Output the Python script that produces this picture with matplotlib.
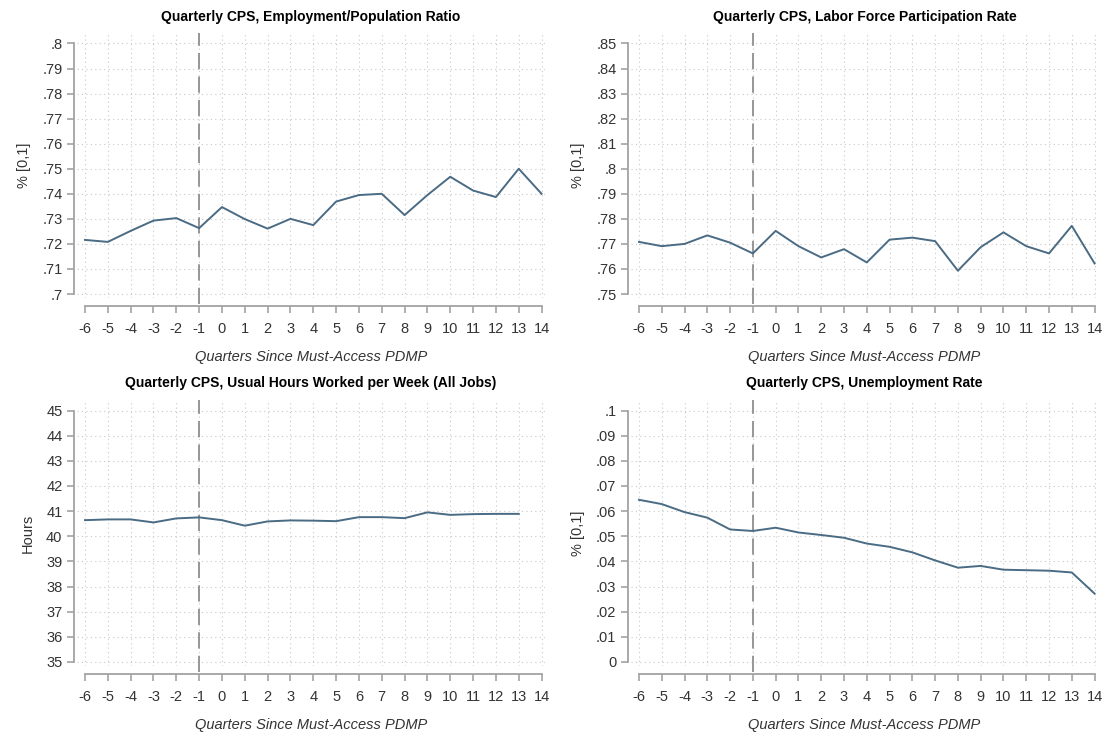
import numpy as np
import matplotlib
matplotlib.use("Agg")
import matplotlib.pyplot as plt
from matplotlib.ticker import FuncFormatter

plt.rcParams['font.family'] = ['Liberation Sans', 'DejaVu Sans']
plt.rcParams['axes.unicode_minus'] = False

quarters = list(range(-6, 15))

emp_pop = [.7216, .7208, .7252, .7293, .7303, .7263, .7347, .7299, .7261, .7300, .7275,
           .7369, .7395, .7400, .7315, .7395, .7468, .7413, .7387, .7500, .7400]
lfp = [.7708, .7691, .7700, .7734, .7705, .7662, .7752, .7691, .7646, .7679, .7626,
       .7717, .7725, .7711, .7593, .7687, .7746, .7691, .7662, .7772, .7622]
hours = [40.64, 40.67, 40.67, 40.55, 40.71, 40.75, 40.64, 40.42, 40.59, 40.63, 40.62,
         40.60, 40.76, 40.76, 40.72, 40.95, 40.85, 40.88, 40.89, 40.89]
unemp = [.0645, .0628, .0596, .0574, .0527, .0521, .0534, .0515, .0505, .0494, .0471,
         .0458, .0436, .0404, .0375, .0382, .0367, .0365, .0363, .0356, .0272]

titles = ["Quarterly CPS, Employment/Population Ratio",
          "Quarterly CPS, Labor Force Participation Rate",
          "Quarterly CPS, Usual Hours Worked per Week (All Jobs)",
          "Quarterly CPS, Unemployment Rate"]
ylabels = ["% [0,1]", "% [0,1]", "Hours", "% [0,1]"]
xlabel = "Quarters Since Must-Access PDMP"

yticks_emp = np.round(np.arange(.70, .8001, .01), 2)
yticks_lfp = np.round(np.arange(.75, .8501, .01), 2)
yticks_hours = np.arange(35, 46, 1)
yticks_unemp = np.round(np.arange(0, .1001, .01), 2)

event_quarter = -1

LINE = '#4a6b84'
AXIS = '#a3a3a3'
TEXT = '#333333'

W, H = 1115, 736
fig = plt.figure(figsize=(W / 100, H / 100), dpi=100)
fig.patch.set_facecolor('white')


def stata_fmt(v, pos=None):
    s = ('%.2f' % v).rstrip('0').rstrip('.')
    if s.startswith('0.'):
        s = s[1:]
    return s


def make_panel(box, y, yticks, title, ylabel):
    # box: left, top, right, bottom in pixels
    l, t, r, b = box
    ax = fig.add_axes([l / W, 1 - b / H, (r - l) / W, (b - t) / H])
    x = quarters[:len(y)]
    ax.plot(x, y, color=LINE, lw=1.4, zorder=3)

    lo, hi = yticks[0], yticks[-1]
    rng = hi - lo
    ax.set_ylim(lo - 4 / 251 * rng, hi + 10.5 / 251 * rng)
    ax.set_xlim(-6.35, 14.15)

    ax.set_yticks(yticks)
    ax.yaxis.set_major_formatter(FuncFormatter(stata_fmt))
    ax.set_xticks(quarters)

    ax.grid(True, color='#c8c8c8', lw=0.8, linestyle=(0, (1, 3)))
    ax.set_axisbelow(True)

    for side in ['top', 'right']:
        ax.spines[side].set_visible(False)
    ax.spines['left'].set_position(('outward', 2))
    ax.spines['left'].set_bounds(lo, hi)
    ax.spines['bottom'].set_position(('outward', 6))
    ax.spines['bottom'].set_bounds(-6, 14)
    for side in ['left', 'bottom']:
        ax.spines[side].set_color(AXIS)
        ax.spines[side].set_linewidth(1.3)

    ax.tick_params(axis='both', colors=AXIS, labelcolor=TEXT, labelsize=10.5,
                   width=1.2, length=5)
    ax.tick_params(axis='x', pad=6)

    ax.axvline(event_quarter, ymin=-6 / (b - t), ymax=1, clip_on=False,
               color='#8f8f8f', lw=1.3, linestyle=(0, (9, 4)), zorder=2)

    ax.set_title(title, fontsize=10, fontweight='bold', color='black', pad=9)
    ax.set_ylabel(ylabel, fontsize=10.5, color=TEXT, labelpad=8)
    ax.set_xlabel(xlabel, fontsize=10.5, color=TEXT, style='italic', labelpad=10)
    return ax


make_panel((77, 33, 545, 298), emp_pop, yticks_emp, titles[0], ylabels[0])
make_panel((631, 33, 1098, 298), lfp, yticks_lfp, titles[1], ylabels[1])
make_panel((77, 400, 545, 666), hours, yticks_hours, titles[2], ylabels[2])
make_panel((631, 400, 1098, 666), unemp, yticks_unemp, titles[3], ylabels[3])

fig.savefig('out.png', dpi=100, facecolor='white')
